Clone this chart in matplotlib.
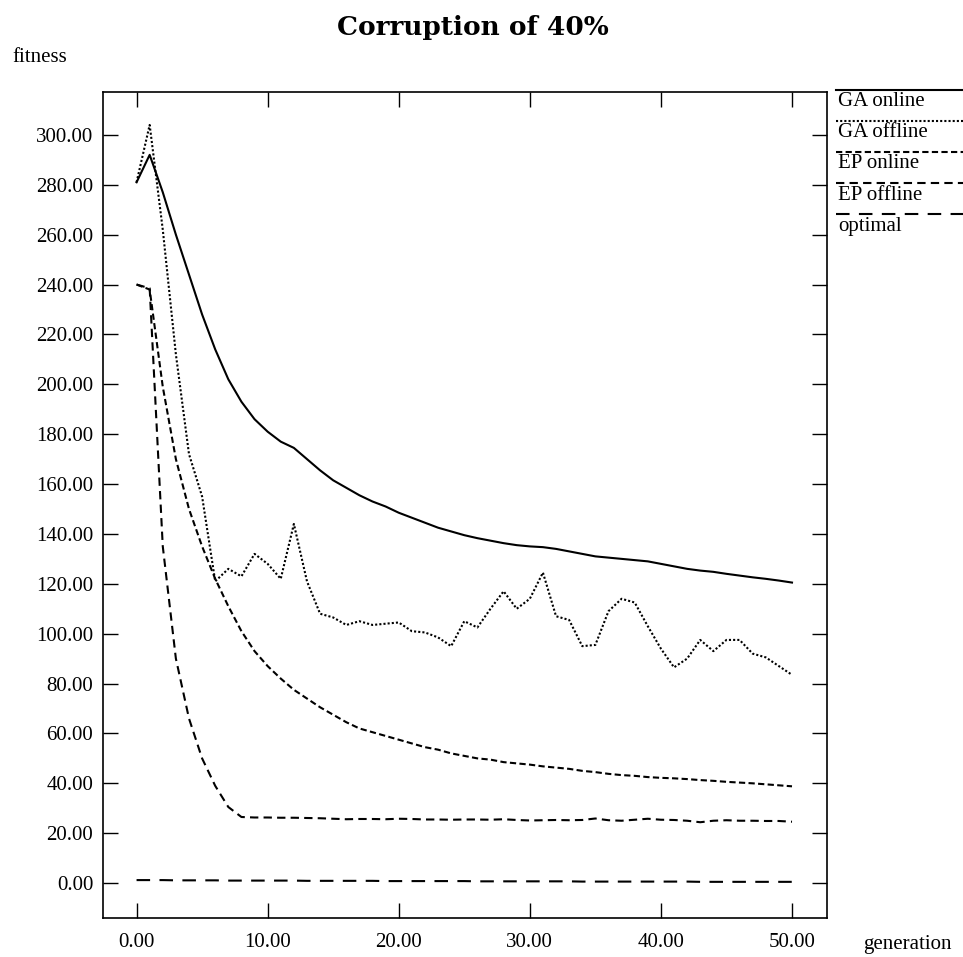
import matplotlib
matplotlib.use("Agg")
import matplotlib.pyplot as plt
from matplotlib.lines import Line2D

# generation axis
generations = list(range(51))

ga_online = [281, 292, 277, 260, 244, 228, 214, 202, 193, 186,
             181, 177, 174.5, 170, 165.5, 161.5, 158.5, 155.5, 153, 151,
             148.5, 146.5, 144.5, 142.5, 141, 139.5, 138.3, 137.3, 136.3, 135.5,
             135, 134.7, 134, 133, 132, 131, 130.5, 130, 129.5, 129,
             128, 127, 126, 125.3, 124.8, 124, 123.3, 122.6, 122, 121.3,
             120.5]

ga_offline = [281, 304, 262, 212, 172, 155, 121, 126, 123, 132,
              128, 122, 144, 121, 108, 106.5, 103.5, 105, 103.5, 104,
              104.5, 101, 100.5, 98.5, 95, 105, 102.5, 110, 117, 110,
              114, 124.5, 107, 105.5, 95, 95.5, 109, 114, 112.5, 103,
              94, 86.5, 90, 97.5, 93, 97.5, 97.5, 92, 90.5, 87,
              83.5]

ep_online = [240, 238, 199, 170, 150, 135, 122, 111, 101, 93,
             87, 82, 77.5, 74, 70.5, 67.5, 64.5, 62, 60.5, 59,
             57.5, 56, 54.5, 53.5, 52, 51, 50, 49.5, 48.5, 48,
             47.5, 46.8, 46.3, 45.8, 45, 44.5, 43.8, 43.3, 43, 42.5,
             42.2, 42, 41.7, 41.3, 41, 40.6, 40.3, 40, 39.6, 39.2,
             38.8]

ep_offline = [240, 238.5, 135, 90, 66, 50, 39, 30.5, 26.5, 26.3,
              26.3, 26.2, 26.2, 26.1, 26.0, 25.8, 25.6, 25.7, 25.7, 25.6,
              25.8, 25.7, 25.5, 25.5, 25.4, 25.5, 25.5, 25.4, 25.6, 25.3,
              25.1, 25.2, 25.3, 25.2, 25.3, 25.9, 25.2, 25.0, 25.4, 25.8,
              25.4, 25.3, 25.0, 24.4, 25.0, 25.2, 25.0, 25.0, 24.9, 24.9,
              24.6]

optimal = [1.2, 1.2, 1.2, 1.1, 1.1, 1.1, 1.1, 1.0, 1.0, 1.0,
           1.0, 1.0, 1.0, 0.9, 0.9, 0.9, 0.9, 0.9, 0.9, 0.8,
           0.8, 0.8, 0.8, 0.8, 0.8, 0.8, 0.7, 0.7, 0.7, 0.7,
           0.7, 0.7, 0.7, 0.7, 0.6, 0.6, 0.6, 0.6, 0.6, 0.6,
           0.6, 0.6, 0.6, 0.5, 0.5, 0.5, 0.5, 0.5, 0.5, 0.5,
           0.5]

series_names = ["GA online", "GA offline", "EP online", "EP offline", "optimal"]
x_ticks = [0, 10, 20, 30, 40, 50]
y_ticks = list(range(0, 301, 20))

plt.rcParams["font.family"] = ["Liberation Serif", "DejaVu Serif"]

styles = ["-", (0, (1, 1)), (0, (3, 1.6)), (0, (4, 2.5)), (0, (6.5, 4.5))]
series = [ga_online, ga_offline, ep_online, ep_offline, optimal]

fig = plt.figure(figsize=(9.63, 9.57), dpi=100)
ax = fig.add_axes([103 / 963, 39 / 957, 724 / 963, 826 / 957])

for vals, ls in zip(series, styles):
    ax.plot(generations, vals, color="black", lw=1.5, linestyle=ls)

ax.set_xlim(-2.56, 52.67)
ax.set_ylim(-14.0, 317.2)
ax.set_xticks(x_ticks)
ax.set_yticks(y_ticks)
ax.set_xticklabels([f"{v:.2f}" for v in x_ticks])
ax.set_yticklabels([f"{v:.2f}" for v in y_ticks])
ax.tick_params(direction="in", length=11, width=1.0, top=True, right=True,
               labelsize=15, color="black")
ax.tick_params(axis="y", pad=7)
ax.tick_params(axis="x", pad=11)
for sp in ax.spines.values():
    sp.set_linewidth(1.2)

fig.text(473 / 963, 1 - 27 / 957, "Corruption of 40%", ha="center", va="center",
         fontsize=19, fontweight="bold", family="DejaVu Serif")
fig.text(12 / 963, 1 - 58 / 957, "fitness", ha="left", va="center", fontsize=15)
fig.text(863 / 963, 1 - 945 / 957, "generation", ha="left", va="center", fontsize=15)

# legend outside on the right: line above each label
for i, (name, ls) in enumerate(zip(series_names, styles)):
    ly = 1 - (90 + 31 * i) / 957
    fig.add_artist(Line2D([836 / 963, 1.0], [ly, ly], transform=fig.transFigure,
                          color="black", lw=1.5, linestyle=ls))
    fig.text(838 / 963, ly - 12 / 957, name, ha="left", va="center", fontsize=15)

fig.savefig("out.png", dpi=100)
